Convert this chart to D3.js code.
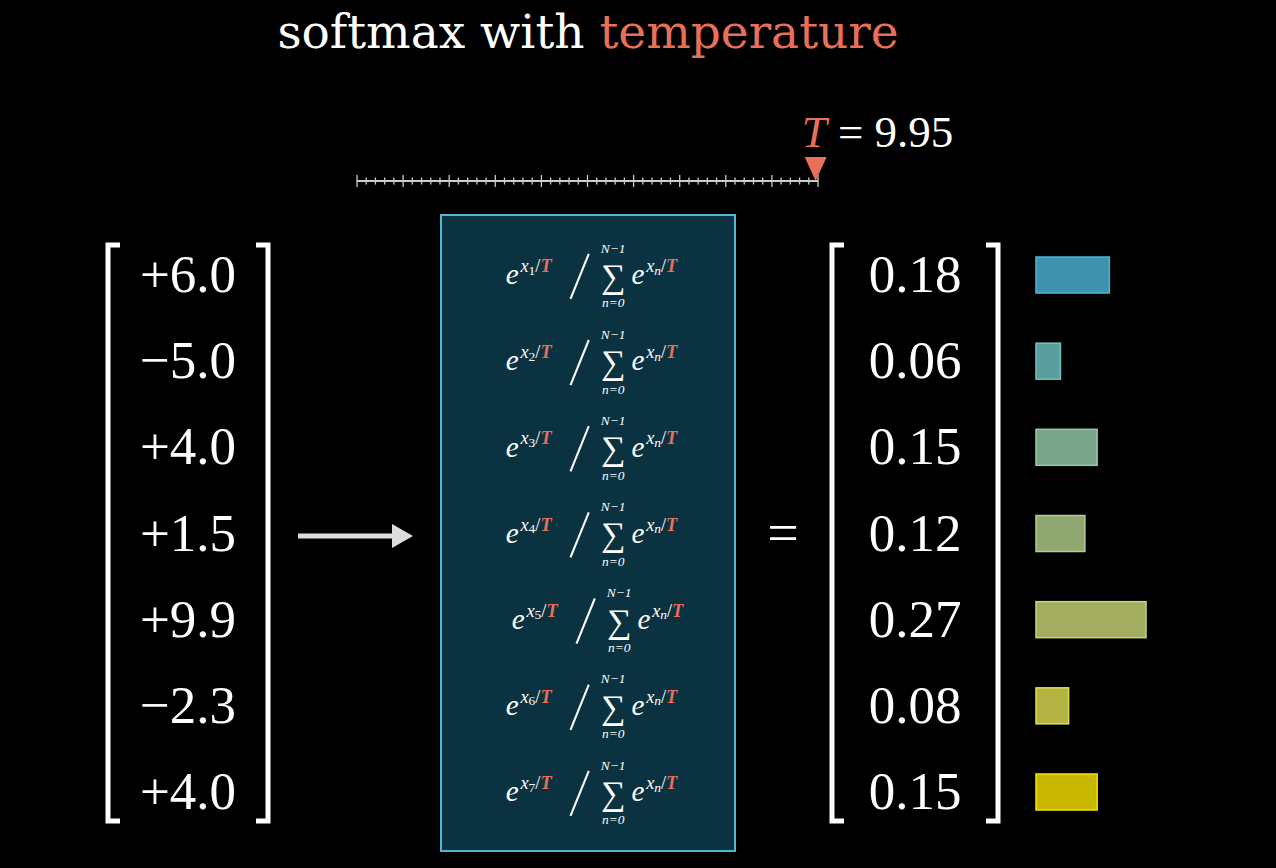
<!DOCTYPE html><html><head><meta charset="utf-8">
<script src="https://cdn.jsdelivr.net/npm/d3@7/dist/d3.min.js"></script>
<style>body{margin:0;background:#000}</style></head><body>
<script>
const inputs = ["+6.0","−5.0","+4.0","+1.5","+9.9","−2.3","+4.0"];
const probs = [0.18,0.06,0.15,0.12,0.27,0.08,0.15];
const probLabels = ["0.18","0.06","0.15","0.12","0.27","0.08","0.15"];
const barColors = ["#3f93ae","#5c9e9e","#7aa48a","#90a772","#a3ad60","#b4b445","#c9b800"];
const tempValue = 9.95;
const tempDomain = [0,10];

const W=1276,H=868, red="#e8705a", serif="'Liberation Serif','DejaVu Serif',serif";
const svg=d3.select("body").append("svg").attr("width",W).attr("height",H).style("background","#000");

const t=svg.append("text").attr("x",588).attr("y",48).attr("text-anchor","middle")
 .attr("font-family","'DejaVu Serif',serif").attr("font-size",47).attr("fill","#fff");
t.append("tspan").text("softmax with ");
t.append("tspan").attr("fill",red).text("temperature");

const sx=d3.scaleLinear().domain(tempDomain).range([357,818]);
svg.append("line").attr("x1",sx(0)).attr("x2",sx(10)).attr("y1",181).attr("y2",181).attr("stroke","#ccc").attr("stroke-width",2);
d3.range(0,50.5,1).forEach(i=>{const v=i/5, maj=i%5===0;
 svg.append("line").attr("x1",sx(v)).attr("x2",sx(v)).attr("y1",maj?175:177.5).attr("y2",maj?187:184.5).attr("stroke","#ccc").attr("stroke-width",1.3);});
const tx=sx(tempValue);
svg.append("path").attr("d",`M${tx-11},157L${tx+11},157L${tx},181Z`).attr("fill",red);
const tl=svg.append("text").attr("x",tx-14).attr("y",147).attr("font-family",serif).attr("font-size",45).attr("fill","#fff");
tl.append("tspan").attr("fill",red).attr("font-style","italic").text("T");
tl.append("tspan").text(" = 9.95");

const ry=d3.scaleLinear().domain([0,6]).range([275,792]);

function bracket(x1,x2,y1,y2,side){
 const d=side==="l"?`M${x1+12},${y1}H${x1}V${y2}H${x1+12}`:`M${x2-12},${y1}H${x2}V${y2}H${x2-12}`;
 svg.append("path").attr("d",d).attr("fill","none").attr("stroke","#fff").attr("stroke-width",5);
}
bracket(108,120,245,821,"l"); bracket(255,268,245,821,"r");
bracket(832,845,245,821,"l"); bracket(985,998,245,821,"r");

svg.selectAll(".in").data(inputs).join("text").attr("x",188).attr("y",(d,i)=>ry(i)+17)
 .attr("text-anchor","middle").attr("font-family",serif).attr("font-size",53).attr("fill","#fff").text(d=>d);
svg.selectAll(".pr").data(probLabels).join("text").attr("x",915).attr("y",(d,i)=>ry(i)+17)
 .attr("text-anchor","middle").attr("font-family",serif).attr("font-size",53).attr("fill","#fff").text(d=>d);

svg.append("line").attr("x1",298).attr("x2",395).attr("y1",536).attr("y2",536).attr("stroke","#ddd").attr("stroke-width",5);
svg.append("path").attr("d","M392,524L413,536L392,548Z").attr("fill","#ddd");
svg.append("text").attr("x",783).attr("y",552).attr("text-anchor","middle").attr("font-family",serif).attr("font-size",56).attr("fill","#fff").text("=");

svg.append("rect").attr("x",441).attr("y",215).attr("width",294).attr("height",636).attr("fill","#0a3240").attr("stroke","#54b6d2").attr("stroke-width",2);

inputs.forEach((d,i)=>{
 const y=ry(i)+2, cx=i===4?607:601;
 const g=svg.append("g").attr("transform",`translate(${cx},${y}) scale(1.22) translate(-588,${-y})`).attr("font-family",serif).attr("fill","#fff");
 g.append("text").attr("x",510).attr("y",y+6).attr("font-size",24).attr("font-style","italic").text("e");
 const s=g.append("text").attr("x",522).attr("y",y-4).attr("font-size",15);
 s.append("tspan").attr("font-style","italic").text("x");
 s.append("tspan").attr("font-size",11).attr("dy",2).text(i+1);
 s.append("tspan").attr("dy",-2).text("/");
 s.append("tspan").attr("fill",red).attr("font-weight","bold").attr("font-style","italic").text("T");
 g.append("line").attr("x1",563).attr("y1",y+18).attr("x2",578).attr("y2",y-19).attr("stroke","#fff").attr("stroke-width",1.7);
 g.append("text").attr("x",598).attr("y",y+9).attr("text-anchor","middle").attr("font-size",28).text("∑");
 g.append("text").attr("x",598).attr("y",y-20).attr("text-anchor","middle").attr("font-size",11).attr("font-style","italic").text("N−1");
 g.append("text").attr("x",598).attr("y",y+25).attr("text-anchor","middle").attr("font-size",11).attr("font-style","italic").text("n=0");
 g.append("text").attr("x",613).attr("y",y+6).attr("font-size",24).attr("font-style","italic").text("e");
 const s2=g.append("text").attr("x",625).attr("y",y-4).attr("font-size",15);
 s2.append("tspan").attr("font-style","italic").text("x");
 s2.append("tspan").attr("font-size",11).attr("dy",2).attr("font-style","italic").text("n");
 s2.append("tspan").attr("dy",-2).text("/");
 s2.append("tspan").attr("fill",red).attr("font-weight","bold").attr("font-style","italic").text("T");
});

const bx=d3.scaleLinear().domain([0,0.27]).range([0,110]);
svg.selectAll(".bar").data(probs).join("rect").attr("x",1036).attr("y",(d,i)=>ry(i)-18)
 .attr("width",d=>bx(d)).attr("height",36).attr("fill",(d,i)=>barColors[i])
 .attr("stroke",(d,i)=>d3.color(barColors[i]).brighter(0.6)).attr("stroke-width",1.5);
</script></body></html>
